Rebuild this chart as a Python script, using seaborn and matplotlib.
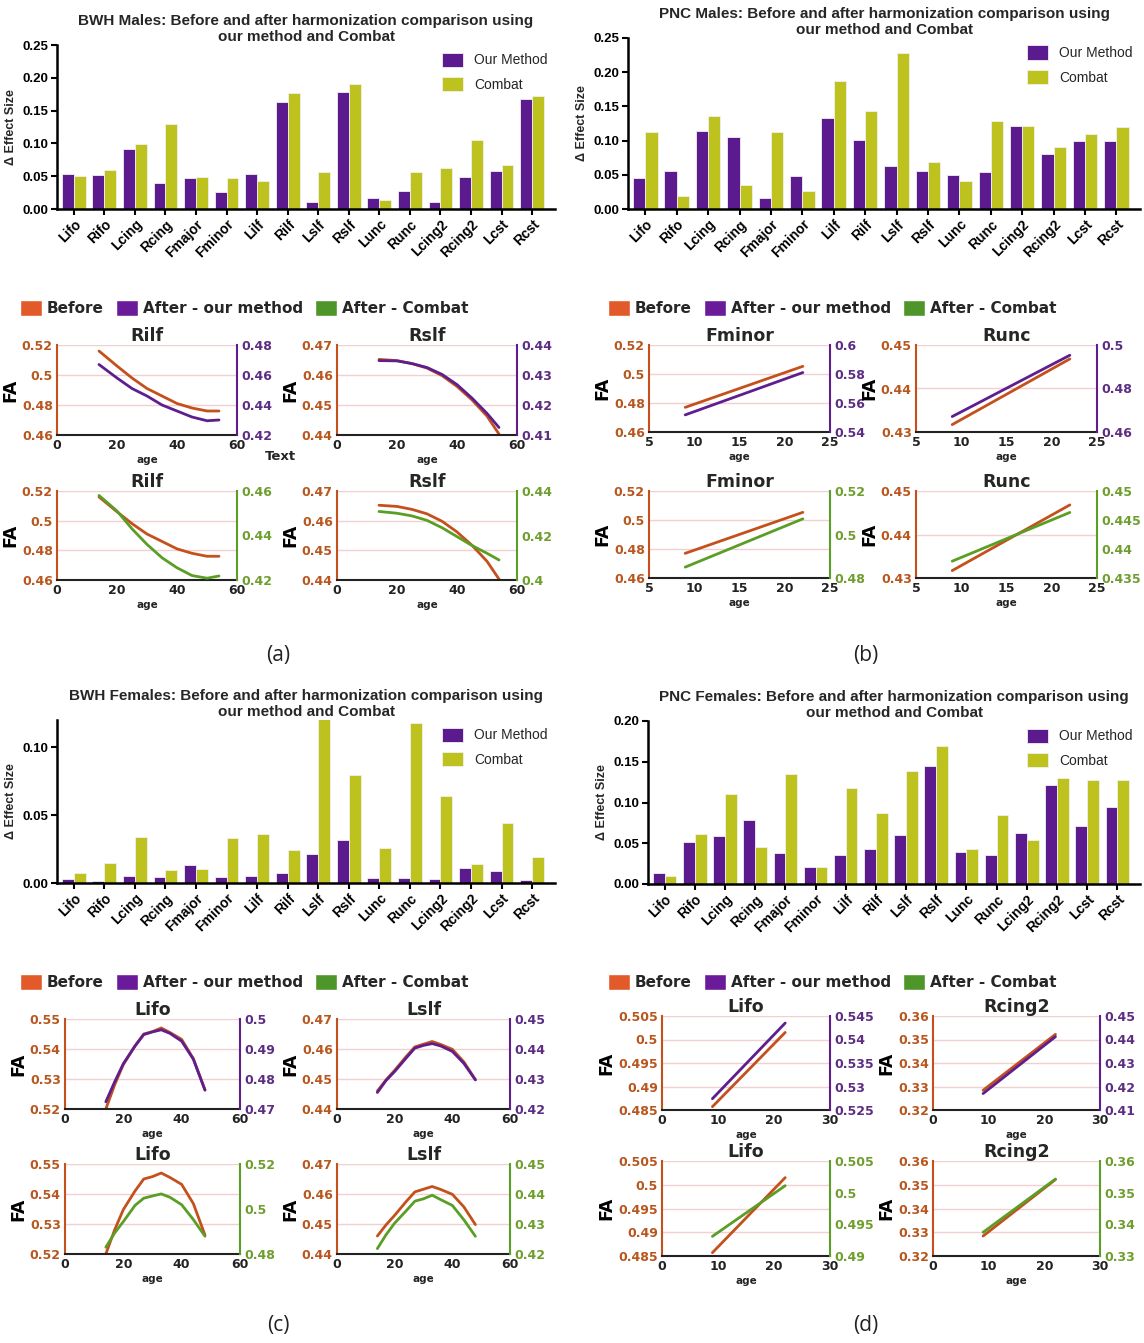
import numpy as np
import pandas as pd
import matplotlib
matplotlib.use("Agg")
import matplotlib.pyplot as plt
import seaborn as sns
from matplotlib.patches import Patch

# ---------------- DATA ----------------
tracts = ["Lifo", "Rifo", "Lcing", "Rcing", "Fmajor", "Fminor", "Lilf", "Rilf",
          "Lslf", "Rslf", "Lunc", "Runc", "Lcing2", "Rcing2", "Lcst", "Rcst"]

bwh_m_ours   = [0.054, 0.052, 0.092, 0.040, 0.047, 0.026, 0.053, 0.163, 0.011, 0.178, 0.017, 0.028, 0.011, 0.049, 0.058, 0.167]
bwh_m_combat = [0.050, 0.060, 0.099, 0.130, 0.049, 0.048, 0.043, 0.177, 0.057, 0.191, 0.013, 0.057, 0.063, 0.105, 0.067, 0.172]

pnc_m_ours   = [0.046, 0.056, 0.114, 0.105, 0.016, 0.048, 0.133, 0.101, 0.063, 0.055, 0.049, 0.054, 0.122, 0.080, 0.099, 0.099]
pnc_m_combat = [0.112, 0.019, 0.136, 0.035, 0.112, 0.026, 0.187, 0.143, 0.228, 0.068, 0.041, 0.128, 0.121, 0.091, 0.110, 0.120]

bwh_f_ours   = [0.0027, 0.0012, 0.0052, 0.0044, 0.0130, 0.0042, 0.0052, 0.0074, 0.0215, 0.0320, 0.0037, 0.0037, 0.0032, 0.0110, 0.0090, 0.0020]
bwh_f_combat = [0.0077, 0.0146, 0.0340, 0.0099, 0.0100, 0.0330, 0.0360, 0.0240, 0.1250, 0.0795, 0.0260, 0.1175, 0.0640, 0.0140, 0.0440, 0.0195]

pnc_f_ours   = [0.0136, 0.0517, 0.0587, 0.0790, 0.0386, 0.0205, 0.0350, 0.0427, 0.0600, 0.1450, 0.0390, 0.0350, 0.0630, 0.1215, 0.0706, 0.0945]
pnc_f_combat = [0.0103, 0.0610, 0.1110, 0.0456, 0.1350, 0.0205, 0.1180, 0.0875, 0.1390, 0.1690, 0.0427, 0.0850, 0.0540, 0.1305, 0.1280, 0.1270]

# line panels (age, FA before, FA after-ours, FA after-combat)
a_ages         = [14, 20, 25, 30, 35, 40, 45, 50, 54]
a_rilf_before  = [0.516, 0.506, 0.498, 0.491, 0.486, 0.481, 0.478, 0.476, 0.476]
a_rilf_ours    = [0.467, 0.458, 0.451, 0.446, 0.440, 0.436, 0.432, 0.4295, 0.430]
a_rilf_combat  = [0.458, 0.451, 0.443, 0.436, 0.430, 0.4255, 0.422, 0.4208, 0.4218]
a_rslf_before  = [0.4652, 0.4648, 0.4638, 0.4623, 0.4598, 0.4562, 0.4517, 0.4463, 0.4403]
a_rslf_ours    = [0.4348, 0.4347, 0.4338, 0.4325, 0.4302, 0.4268, 0.4223, 0.4172, 0.4125]
a_rslf_combat  = [0.4308, 0.4300, 0.4288, 0.4268, 0.4235, 0.4195, 0.4155, 0.4120, 0.4090]

b_ages          = [9, 22]
b_fminor_before = [0.477, 0.5053]
b_fminor_ours   = [0.5518, 0.581]
b_fminor_combat = [0.485, 0.5072]
b_runc_before   = [0.4317, 0.4468]
b_runc_ours     = [0.4671, 0.4953]
b_runc_combat   = [0.4379, 0.4463]

c_ages         = [14, 17, 20, 24, 27, 30, 33, 36, 40, 44, 48]
c_lifo_before  = [0.520, 0.528, 0.5348, 0.541, 0.545, 0.5458, 0.5470, 0.5455, 0.5432, 0.5368, 0.5263]
c_lifo_ours    = [0.4724, 0.479, 0.4851, 0.491, 0.4948, 0.4957, 0.4964, 0.4952, 0.4926, 0.4866, 0.4763]
c_lifo_combat  = [0.483, 0.4893, 0.4944, 0.5016, 0.5048, 0.5058, 0.5067, 0.5052, 0.5019, 0.4953, 0.4879]
c_lslf_before  = [0.446, 0.4497, 0.4529, 0.4575, 0.4607, 0.4616, 0.4625, 0.4615, 0.4599, 0.4557, 0.4498]
c_lslf_ours    = [0.4255, 0.4295, 0.4325, 0.437, 0.4403, 0.4412, 0.4418, 0.4410, 0.4392, 0.4352, 0.4297]
c_lslf_combat  = [0.4218, 0.4264, 0.4303, 0.4344, 0.4376, 0.4384, 0.4396, 0.4381, 0.4362, 0.4314, 0.4259]

d_ages          = [9, 22]
d_lifo_before   = [0.4857, 0.5015]
d_lifo_ours     = [0.5274, 0.5435]
d_lifo_combat   = [0.4931, 0.5011]
d_rcing2_before = [0.3284, 0.3522]
d_rcing2_ours   = [0.417, 0.4412]
d_rcing2_combat = [0.3375, 0.3543]

legend_labels = ["Before", "After - our method", "After - Combat"]
bar_labels = ["Our Method", "Combat"]

# ---------------- STYLE ----------------
sns.set_theme(style="white")
plt.rcParams["font.family"] = ["DejaVu Sans"]

BAR_PURPLE = "#5B1A8E"
BAR_OLIVE = "#BDC21F"
C_BEFORE = "#C4501C"
C_BEFORE_PATCH = "#E2592A"
C_OURS = "#5E1E8E"
C_OURS_PATCH = "#6A1B9A"
C_COMBAT = "#5A9E25"
C_COMBAT_PATCH = "#4E962A"
TXT_BEFORE = "#B8561E"
TXT_OURS = "#5C2D83"
TXT_COMBAT = "#6E9E2E"
GRID = "#F3D0D0"
ARIAL = "Liberation Sans"

W, H = 1144, 1343
fig = plt.figure(figsize=(W / 100, H / 100), dpi=100)
fig.patch.set_facecolor("white")


def rect(x0, y0, x1, y1):
    return [x0 / W, 1 - y1 / H, (x1 - x0) / W, (y1 - y0) / H]


def bar_panel(box, title, ours, combat, ylim, yticks):
    ax = fig.add_axes(rect(*box))
    df = pd.DataFrame({
        "tract": tracts * 2,
        "val": list(ours) + list(combat),
        "method": [bar_labels[0]] * len(tracts) + [bar_labels[1]] * len(tracts),
    })
    sns.barplot(data=df, x="tract", y="val", hue="method",
                palette=[BAR_PURPLE, BAR_OLIVE], ax=ax, width=0.78,
                saturation=1, edgecolor="#F0F0F0", linewidth=0.6, errorbar=None)
    ax.set_ylim(*ylim)
    ax.set_yticks(yticks, labels=[f"{v:.2f}" for v in yticks],
                  fontweight="bold", fontsize=9.5, family=ARIAL)
    ax.set_xticks(range(len(tracts)), labels=tracts, rotation=45, ha="right",
                  rotation_mode="anchor", fontweight="bold", fontsize=10, family=ARIAL)
    ax.set_xlim(-0.55, 15.75)
    for s in ["top", "right"]:
        ax.spines[s].set_visible(False)
    for s in ["left", "bottom"]:
        ax.spines[s].set_color("black")
        ax.spines[s].set_linewidth(1.8)
    ax.tick_params(axis="both", direction="out", length=4, width=1.5, color="black",
                   bottom=True, left=True, pad=2, labelcolor="black")
    ax.set_xlabel("")
    ax.set_ylabel("Δ Effect Size", fontweight="bold", fontsize=9,
                  family=ARIAL, labelpad=4)
    ax.legend(loc="upper right", frameon=False, handlelength=1.5, handleheight=1.2,
              labelspacing=0.7, prop={"family": ARIAL, "size": 10},
              bbox_to_anchor=(1.01, 1.03))
    ax.set_title(title, fontweight="bold", fontsize=11, family=ARIAL,
                 pad=3, linespacing=1.2)
    return ax


def line_panel(box, title, ages, before, after, kind, xlim, xticks,
               lylim, lyticks, rylim, ryticks):
    ax = fig.add_axes(rect(*box))
    dfb = pd.DataFrame({"age": ages, "FA": before})
    sns.lineplot(data=dfb, x="age", y="FA", color=C_BEFORE, lw=2, ax=ax, errorbar=None)
    ax.set_xlim(*xlim)
    ax.set_xticks(xticks, labels=[f"{v:g}" for v in xticks], fontweight="bold")
    ax.set_ylim(*lylim)
    ax.set_yticks(lyticks, labels=[f"{v:g}" for v in lyticks], fontweight="bold")
    ax.yaxis.grid(True, color=GRID, lw=1)
    ax.xaxis.grid(False)
    ax.set_axisbelow(True)
    for s in ["top", "right"]:
        ax.spines[s].set_visible(False)
    ax.spines["left"].set_color(C_BEFORE)
    ax.spines["left"].set_linewidth(1.5)
    ax.spines["bottom"].set_color("#222222")
    ax.spines["bottom"].set_linewidth(1.5)
    ax.tick_params(axis="y", colors=TXT_BEFORE, length=0, pad=3, labelsize=9)
    ax.tick_params(axis="x", colors="#222222", length=0, pad=3, labelsize=9)
    ax.set_ylabel("FA", fontweight="bold", fontsize=12.5, color="black", labelpad=2)
    ax.set_xlabel("age", fontweight="bold", fontsize=7.5, color="#222222", labelpad=2)
    ax.set_title(title, fontweight="bold", fontsize=12.5, pad=2)

    col = C_OURS if kind == "ours" else C_COMBAT
    tcol = TXT_OURS if kind == "ours" else TXT_COMBAT
    ax2 = ax.twinx()
    dfa = pd.DataFrame({"age": ages, "FA": after})
    sns.lineplot(data=dfa, x="age", y="FA", color=col, lw=2, ax=ax2, errorbar=None)
    ax2.set_ylim(*rylim)
    ax2.set_yticks(ryticks, labels=[f"{v:g}" for v in ryticks], fontweight="bold")
    ax2.grid(False)
    ax2.set_ylabel("")
    for s in ["top", "left", "bottom"]:
        ax2.spines[s].set_visible(False)
    ax2.spines["right"].set_color(col)
    ax2.spines["right"].set_linewidth(1.5)
    ax2.tick_params(axis="y", colors=tcol, length=0, pad=3, labelsize=9)
    return ax


def legend_row(x, y):
    handles = [Patch(facecolor=C_BEFORE_PATCH), Patch(facecolor=C_OURS_PATCH),
               Patch(facecolor=C_COMBAT_PATCH)]
    fig.legend(handles, legend_labels, loc="center left",
               bbox_to_anchor=(x / W, 1 - y / H), ncol=3, frameon=False,
               handlelength=1.45, handleheight=1.3, handletextpad=0.3,
               columnspacing=0.8, borderaxespad=0, borderpad=0,
               prop={"weight": "bold", "size": 11})


# ---------------- BAR CHARTS ----------------
bar_panel((57, 45, 555, 209),
          "BWH Males: Before and after harmonization comparison using\nour method and Combat",
          bwh_m_ours, bwh_m_combat, (0, 0.25), [0, 0.05, 0.10, 0.15, 0.20, 0.25])
bar_panel((628, 38, 1140, 209),
          "PNC Males: Before and after harmonization comparison using\nour method and Combat",
          pnc_m_ours, pnc_m_combat, (0, 0.25), [0, 0.05, 0.10, 0.15, 0.20, 0.25])
bar_panel((57, 720, 555, 883),
          "BWH Females: Before and after harmonization comparison using\nour method and Combat",
          bwh_f_ours, bwh_f_combat, (0, 0.12), [0, 0.05, 0.10])
bar_panel((648, 721, 1140, 884),
          "PNC Females: Before and after harmonization comparison using\nour method and Combat",
          pnc_f_ours, pnc_f_combat, (0, 0.20), [0, 0.05, 0.10, 0.15, 0.20])

# ---------------- LINE PANELS ----------------
# (a)
legend_row(20, 308)
line_panel((57, 345, 237, 435), "Rilf", a_ages, a_rilf_before, a_rilf_ours, "ours",
           (0, 60), [0, 20, 40, 60], (0.46, 0.52), [0.46, 0.48, 0.50, 0.52],
           (0.42, 0.48), [0.42, 0.44, 0.46, 0.48])
line_panel((337, 345, 517, 435), "Rslf", a_ages, a_rslf_before, a_rslf_ours, "ours",
           (0, 60), [0, 20, 40, 60], (0.44, 0.47), [0.44, 0.45, 0.46, 0.47],
           (0.41, 0.44), [0.41, 0.42, 0.43, 0.44])
line_panel((57, 491, 237, 580), "Rilf", a_ages, a_rilf_before, a_rilf_combat, "combat",
           (0, 60), [0, 20, 40, 60], (0.46, 0.52), [0.46, 0.48, 0.50, 0.52],
           (0.42, 0.46), [0.42, 0.44, 0.46])
line_panel((337, 491, 517, 580), "Rslf", a_ages, a_rslf_before, a_rslf_combat, "combat",
           (0, 60), [0, 20, 40, 60], (0.44, 0.47), [0.44, 0.45, 0.46, 0.47],
           (0.40, 0.44), [0.40, 0.42, 0.44])
fig.text(280 / W, 1 - 456 / H, "Text", fontsize=9.5, fontweight="bold", ha="center", va="center")

# (b)
legend_row(608, 308)
line_panel((649, 345, 830, 432), "Fminor", b_ages, b_fminor_before, b_fminor_ours, "ours",
           (5, 25), [5, 10, 15, 20, 25], (0.46, 0.52), [0.46, 0.48, 0.50, 0.52],
           (0.54, 0.60), [0.54, 0.56, 0.58, 0.60])
line_panel((916, 345, 1097, 432), "Runc", b_ages, b_runc_before, b_runc_ours, "ours",
           (5, 25), [5, 10, 15, 20, 25], (0.43, 0.45), [0.43, 0.44, 0.45],
           (0.46, 0.50), [0.46, 0.48, 0.50])
line_panel((649, 491, 830, 578), "Fminor", b_ages, b_fminor_before, b_fminor_combat, "combat",
           (5, 25), [5, 10, 15, 20, 25], (0.46, 0.52), [0.46, 0.48, 0.50, 0.52],
           (0.48, 0.52), [0.48, 0.50, 0.52])
line_panel((916, 491, 1097, 578), "Runc", b_ages, b_runc_before, b_runc_combat, "combat",
           (5, 25), [5, 10, 15, 20, 25], (0.43, 0.45), [0.43, 0.44, 0.45],
           (0.435, 0.45), [0.435, 0.44, 0.445, 0.45])

# (c)
legend_row(20, 982)
line_panel((65, 1019, 240, 1109), "Lifo", c_ages, c_lifo_before, c_lifo_ours, "ours",
           (0, 60), [0, 20, 40, 60], (0.52, 0.55), [0.52, 0.53, 0.54, 0.55],
           (0.47, 0.50), [0.47, 0.48, 0.49, 0.50])
line_panel((337, 1019, 510, 1109), "Lslf", c_ages, c_lslf_before, c_lslf_ours, "ours",
           (0, 60), [0, 20, 40, 60], (0.44, 0.47), [0.44, 0.45, 0.46, 0.47],
           (0.42, 0.45), [0.42, 0.43, 0.44, 0.45])
line_panel((65, 1164, 240, 1254), "Lifo", c_ages, c_lifo_before, c_lifo_combat, "combat",
           (0, 60), [0, 20, 40, 60], (0.52, 0.55), [0.52, 0.53, 0.54, 0.55],
           (0.48, 0.52), [0.48, 0.50, 0.52])
line_panel((337, 1164, 510, 1254), "Lslf", c_ages, c_lslf_before, c_lslf_combat, "combat",
           (0, 60), [0, 20, 40, 60], (0.44, 0.47), [0.44, 0.45, 0.46, 0.47],
           (0.42, 0.45), [0.42, 0.43, 0.44, 0.45])

# (d)
legend_row(608, 982)
line_panel((662, 1016, 830, 1110), "Lifo", d_ages, d_lifo_before, d_lifo_ours, "ours",
           (0, 30), [0, 10, 20, 30], (0.485, 0.505), [0.485, 0.49, 0.495, 0.50, 0.505],
           (0.525, 0.545), [0.525, 0.53, 0.535, 0.54, 0.545])
line_panel((933, 1016, 1100, 1110), "Rcing2", d_ages, d_rcing2_before, d_rcing2_ours, "ours",
           (0, 30), [0, 10, 20, 30], (0.32, 0.36), [0.32, 0.33, 0.34, 0.35, 0.36],
           (0.41, 0.45), [0.41, 0.42, 0.43, 0.44, 0.45])
line_panel((662, 1161, 830, 1256), "Lifo", d_ages, d_lifo_before, d_lifo_combat, "combat",
           (0, 30), [0, 10, 20, 30], (0.485, 0.505), [0.485, 0.49, 0.495, 0.50, 0.505],
           (0.49, 0.505), [0.49, 0.495, 0.50, 0.505])
line_panel((933, 1161, 1100, 1256), "Rcing2", d_ages, d_rcing2_before, d_rcing2_combat, "combat",
           (0, 30), [0, 10, 20, 30], (0.32, 0.36), [0.32, 0.33, 0.34, 0.35, 0.36],
           (0.33, 0.36), [0.33, 0.34, 0.35, 0.36])

# panel letters
for (x, y, t) in [(278, 655, "(a)"), (866, 655, "(b)"), (278, 1325, "(c)"), (866, 1325, "(d)")]:
    fig.text(x / W, 1 - y / H, t, fontsize=15, ha="center", va="center",
             family="Open Sans", color="#222222")

fig.savefig("out.png", dpi=100, facecolor="white")
